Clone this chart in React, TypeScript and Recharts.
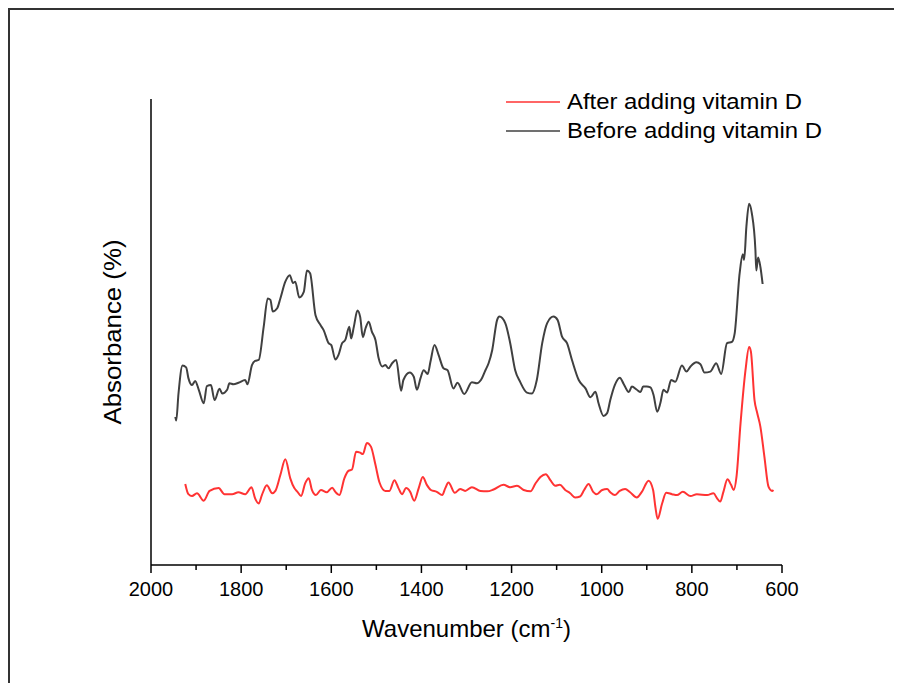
import React from 'react';
import { LineChart, Line, XAxis, YAxis, Legend } from 'recharts';

// wavenumbers (cm-1) and absorbance (arbitrary %)
const beforeWavenumber = [
  1946, 1944, 1939, 1930, 1922, 1917, 1909, 1902, 1894, 1883, 1876, 1867, 1859, 1848, 1842, 1831, 1826, 1817,
  1806, 1791, 1786, 1776, 1769, 1761, 1750, 1741, 1735, 1730, 1720, 1713, 1702, 1692, 1685, 1680, 1671, 1661,
  1654, 1647, 1635, 1624, 1617, 1606, 1600, 1591, 1584, 1576, 1569, 1560, 1556, 1550, 1542, 1536, 1530, 1524,
  1517, 1510, 1502, 1495, 1487, 1480, 1473, 1465, 1456, 1445, 1440, 1426, 1417, 1410, 1402, 1395, 1386, 1380,
  1371, 1362, 1351, 1342, 1329, 1320, 1305, 1288, 1277, 1268, 1258, 1251, 1243, 1232, 1227, 1214, 1203, 1192,
  1181, 1166, 1155, 1144, 1132, 1121, 1107, 1098, 1088, 1077, 1066, 1051, 1036, 1025, 1014, 1007, 996, 988,
  981, 971, 960, 951, 940, 933, 922, 914, 908, 900, 892, 885, 877, 870, 863, 855, 846, 837, 822, 812, 803, 790,
  781, 772, 759, 746, 735, 722, 711, 705, 694, 687, 684, 679, 673, 667, 659, 657, 653, 648, 643,
];
const beforeAbsorbance = [
  31.8, 31.0, 36.8, 42.8, 42.4, 40.1, 38.6, 39.5, 37.6, 34.7, 38.4, 38.6, 35.4, 37.8, 36.8, 37.6, 39.0, 38.8,
  39.1, 39.7, 38.8, 42.9, 43.8, 44.0, 51.1, 57.2, 56.9, 54.4, 55.1, 57.2, 60.8, 62.2, 60.5, 60.8, 57.4, 58.6,
  63.2, 62.6, 53.6, 51.5, 50.4, 47.6, 47.2, 44.1, 45.1, 47.6, 48.3, 51.1, 48.6, 51.1, 54.6, 53.3, 48.9, 50.8,
  52.2, 50.1, 48.3, 44.4, 42.6, 42.9, 42.2, 43.3, 44.0, 37.4, 39.7, 41.3, 40.4, 37.6, 40.1, 41.8, 41.0, 43.6,
  47.2, 45.1, 42.2, 41.8, 37.9, 39.1, 36.7, 39.2, 39.0, 39.7, 41.8, 43.3, 46.1, 52.6, 53.3, 51.9, 47.6, 41.8,
  39.3, 37.0, 36.8, 39.7, 47.6, 51.9, 53.3, 52.6, 49.0, 47.6, 44.0, 39.7, 37.9, 36.0, 37.2, 34.7, 32.0, 32.6,
  35.4, 38.6, 40.2, 38.8, 37.1, 38.3, 37.6, 37.1, 38.3, 38.3, 38.1, 36.5, 32.9, 34.7, 37.6, 37.0, 39.7, 39.3,
  42.8, 41.5, 42.6, 43.5, 43.1, 41.3, 41.5, 43.3, 41.0, 47.6, 47.9, 49.7, 62.6, 66.7, 65.5, 72.6, 77.5, 75.5,
  67.6, 63.2, 66.0, 64.0, 60.3,
];

const afterWavenumber = [
  1924, 1917, 1909, 1898, 1883, 1870, 1850, 1837, 1820, 1806, 1791, 1777, 1769, 1761, 1754, 1743, 1731, 1724,
  1713, 1702, 1691, 1682, 1675, 1667, 1658, 1650, 1643, 1634, 1623, 1610, 1598, 1591, 1582, 1571, 1562, 1554,
  1545, 1536, 1530, 1521, 1512, 1502, 1493, 1480, 1471, 1460, 1451, 1443, 1434, 1425, 1416, 1406, 1397, 1388,
  1379, 1366, 1354, 1347, 1340, 1326, 1314, 1303, 1288, 1269, 1254, 1240, 1218, 1203, 1188, 1173, 1158, 1147,
  1136, 1124, 1114, 1103, 1093, 1081, 1070, 1059, 1048, 1039, 1029, 1019, 1011, 999, 988, 981, 971, 960, 948,
  937, 922, 911, 896, 886, 881, 876, 866, 857, 844, 833, 820, 803, 789, 766, 752, 744, 737, 730, 721, 713, 707,
  701, 692, 681, 673, 669, 661, 655, 648, 639, 630, 622, 619,
];
const afterAbsorbance = [
  17.4, 15.2, 14.8, 15.4, 13.8, 15.9, 16.5, 15.2, 15.2, 15.6, 15.2, 16.7, 14.3, 13.2, 15.0, 17.1, 15.4, 15.9,
  19.3, 22.7, 18.6, 16.5, 15.7, 14.8, 17.5, 18.6, 16.1, 15.0, 16.1, 15.6, 16.6, 15.7, 15.0, 18.6, 20.2, 20.5,
  24.3, 24.1, 23.8, 26.2, 25.4, 21.5, 17.7, 15.9, 15.9, 18.2, 16.5, 15.2, 16.5, 15.7, 13.8, 16.5, 18.9, 17.2,
  16.1, 15.7, 15.0, 16.5, 17.7, 15.5, 16.3, 15.9, 16.7, 15.9, 15.8, 16.2, 17.2, 16.7, 17.0, 16.1, 15.8, 17.5,
  18.9, 19.5, 18.2, 17.0, 17.2, 16.1, 15.4, 14.5, 14.7, 16.1, 17.4, 15.7, 15.2, 16.1, 16.3, 15.6, 15.0, 15.9,
  16.3, 15.6, 14.5, 15.7, 18.1, 16.1, 12.5, 9.9, 13.2, 15.5, 15.2, 15.0, 15.7, 14.8, 15.2, 15.0, 15.4, 14.3,
  13.6, 15.7, 18.4, 17.2, 16.1, 18.9, 30.4, 41.8, 46.8, 45.8, 35.4, 32.6, 29.7, 23.2, 16.8, 15.9, 16.1,
];

const xTicks = [2000, 1900, 1800, 1700, 1600, 1500, 1400, 1300, 1200, 1100, 1000, 900, 800, 700, 600];

const beforeData = beforeWavenumber.map((wn, i) => ({ wn, value: beforeAbsorbance[i] }));
const afterData = afterWavenumber.map((wn, i) => ({ wn, value: afterAbsorbance[i] }));

const FONT = '"Liberation Sans", Arial, sans-serif';
const RED = '#ff3333';
const DARK = '#404040';

function WaveTick(props: any) {
  const { x, y, payload } = props;
  const major = payload.value % 200 === 0;
  return (
    <g>
      <line x1={x} y1={y} x2={x} y2={y + (major ? 8 : 5)} stroke="#000" strokeWidth={1.5} />
      {major && (
        <text x={x} y={y + 31} textAnchor="middle" fontSize={20} fill="#000" fontFamily={FONT}>
          {payload.value}
        </text>
      )}
    </g>
  );
}

function LegendBox() {
  return (
    <svg width={400} height={60} style={{ display: 'block', overflow: 'visible' }}>
      <line x1={8} y1={14} x2={62} y2={14} stroke={RED} strokeWidth={1.5} />
      <text x={69} y={21} fontSize={22} fill="#000" fontFamily={FONT} textLength={235} lengthAdjust="spacingAndGlyphs">
        After adding vitamin D
      </text>
      <line x1={8} y1={43} x2={62} y2={43} stroke={DARK} strokeWidth={1.5} />
      <text x={69} y={50} fontSize={22} fill="#000" fontFamily={FONT} textLength={255} lengthAdjust="spacingAndGlyphs">
        Before adding vitamin D
      </text>
    </svg>
  );
}

export default function App() {
  return (
    <div
      style={{
        position: 'relative',
        width: 894,
        height: 675,
        borderTop: '2px solid #333',
        borderLeft: '2px solid #333',
        boxSizing: 'border-box',
        background: '#fff',
      }}
    >
      <div style={{ position: 'absolute', top: -2, left: -2 }}>
        <LineChart width={894} height={675} margin={{ top: 91, right: 120, bottom: 0, left: 0 }}>
          <XAxis
            type="number"
            dataKey="wn"
            domain={[600, 2000]}
            reversed
            ticks={xTicks}
            interval={0}
            height={118}
            tickSize={0}
            tickMargin={0}
            tickLine={false}
            tick={<WaveTick />}
            axisLine={{ stroke: '#000', strokeWidth: 1.5 }}
            label={{
              content: (p: any) => {
                const vb = p.viewBox;
                return (
                  <text x={vb.x + vb.width / 2} y={vb.y + 72} textAnchor="middle" fontSize={24} fill="#000" fontFamily={FONT}>
                    Wavenumber (cm<tspan dy={-9} fontSize={14}>-1</tspan><tspan dy={9}>)</tspan>
                  </text>
                );
              },
            }}
          />
          <YAxis
            type="number"
            domain={[0, 100]}
            width={143}
            tick={false}
            tickLine={false}
            axisLine={{ stroke: '#000', strokeWidth: 1.5 }}
            label={{
              content: (p: any) => {
                const vb = p.viewBox;
                const cx = vb.x + vb.width - 38;
                const cy = vb.y + vb.height / 2;
                return (
                  <text
                    x={cx}
                    y={cy}
                    transform={`rotate(-90 ${cx} ${cy})`}
                    textAnchor="middle"
                    dominantBaseline="central"
                    fontSize={23}
                    fill="#000"
                    fontFamily={FONT}
                    textLength={185}
                    lengthAdjust="spacingAndGlyphs"
                  >
                    Absorbance (%)
                  </text>
                );
              },
            }}
          />
          <Legend
            content={() => <LegendBox />}
            wrapperStyle={{ position: 'absolute', left: 490, top: 80, width: 400, height: 0, overflow: 'visible' }}
          />
          <Line
            data={afterData}
            dataKey="value"
            name="After adding vitamin D"
            type="monotone"
            stroke={RED}
            strokeWidth={2}
            dot={false}
            isAnimationActive={false}
          />
          <Line
            data={beforeData}
            dataKey="value"
            name="Before adding vitamin D"
            type="monotone"
            stroke={DARK}
            strokeWidth={2}
            dot={false}
            isAnimationActive={false}
          />
        </LineChart>
      </div>
    </div>
  );
}
